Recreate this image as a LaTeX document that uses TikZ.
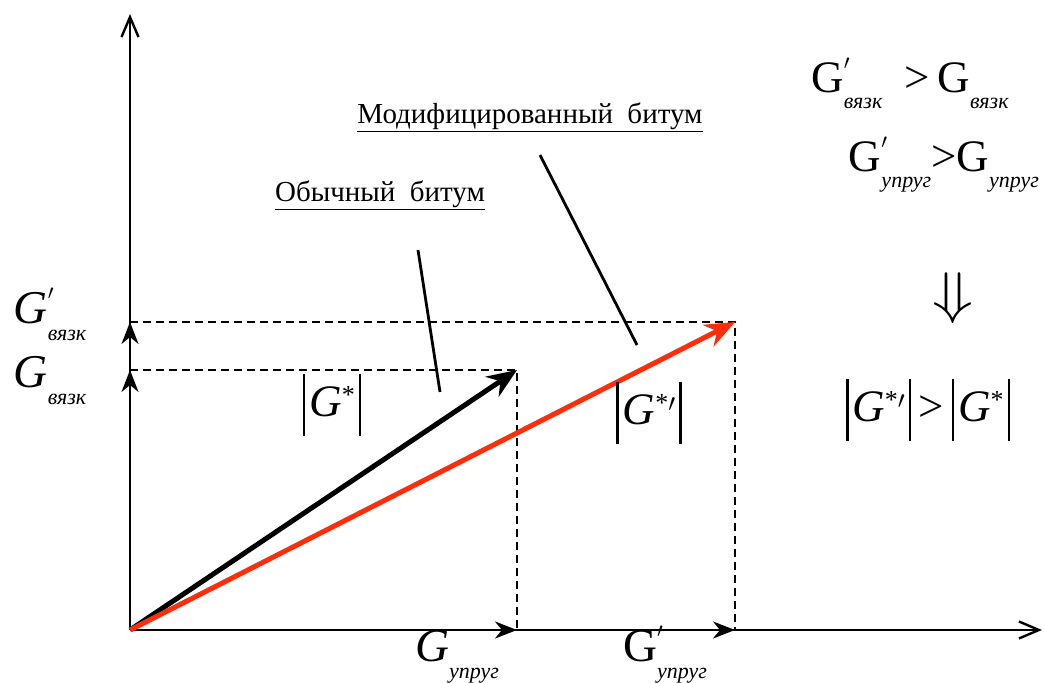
\documentclass[tikz,border=0pt]{standalone}
\usepackage{fontspec}
\setmainfont{Liberation Serif}
\usetikzlibrary{arrows.meta}
\definecolor{vred}{RGB}{255,45,10}
\newcommand{\Gx}[3]{{#1G}\rlap{\smash{\raisebox{0.52em}{\fontsize{20}{20}\selectfont#2}}}\raisebox{-0.36em}{\fontsize{22}{22}\selectfont\itshape #3}}
\newcommand{\vb}{\rule[-0.42em]{2.4pt}{1.36em}}
\newcommand{\Gabs}[1]{\vb\kern4pt{\itshape G}\raisebox{0.3em}{\fontsize{26}{26}\selectfont #1}\kern4pt\vb}
\begin{document}
\begin{tikzpicture}[x=1pt,y=1pt,
  axis/.style={line width=2.4pt},
  opentip/.style={-{Straight Barb[length=20pt,width=17pt,line width=2.4pt]}},
  filltip/.style={-{Stealth[length=22pt,width=17pt,inset=7pt]}},
  vec/.style={line width=5pt,-{Stealth[length=30pt,width=24pt,inset=10pt]}},
  dashln/.style={line width=2pt,dash pattern=on 8pt off 5pt},
  leader/.style={line width=2.8pt},
  lbl/.style={font=\fontsize{29}{32}\selectfont, inner sep=0pt},
  glab/.style={font=\fontsize{47}{52}\selectfont, inner sep=0pt},
  mlab/.style={font=\fontsize{45}{50}\selectfont, inner sep=0pt},
]
\useasboundingbox (0,0) rectangle (1045,683);
\fill[white] (0,0) rectangle (1045,683);
\coordinate (O) at (130,53);
\coordinate (Ytop) at (130,669);
\coordinate (Xend) at (1042,53);
\coordinate (Yv) at (130,313);
\coordinate (Yvp) at (130,361);
\coordinate (Xu) at (517,53);
\coordinate (Xup) at (735,53);
\coordinate (P1) at (517,313);
\coordinate (P2) at (735,361);
% dashed projections
\draw[dashln] (Yv) -- (P1) -- (Xu);
\draw[dashln] (Yvp) -- (P2) -- (Xup);
% axes
\draw[axis,opentip] (O) -- (Ytop);
\draw[axis,opentip] (O) -- (Xend);
\draw[axis,filltip] ([yshift=-30pt]Yv) -- (Yv);
\draw[axis,filltip] ([yshift=-30pt]Yvp) -- (Yvp);
\draw[axis,filltip] ([xshift=-30pt]Xu) -- (Xu);
\draw[axis,filltip] ([xshift=-30pt]Xup) -- (Xup);
% vectors
\draw[vec,black] (O) -- (P1);
\draw[vec,vred] (O) -- (P2);
% leaders
\coordinate (L1a) at (418,433);
\coordinate (L1b) at (440,291);
\coordinate (L2a) at (540,528);
\coordinate (L2b) at (637,338);
\draw[leader] (L1a) -- (L1b);
\draw[leader] (L2a) -- (L2b);
% labels
\node[lbl] (mod) at (530,566) {\underline{Модифицированный\ \ битум}};
\node[lbl] (obi) at (380,488) {\underline{Обычный\ \ битум}};
\node[glab] (gvp) at (50,366) {\Gx{\itshape}{$\prime$}{вязк}};
\node[glab] (gv) at (50,302) {\Gx{\itshape}{}{вязк}};
\node[glab] (gu) at (457,26) {\Gx{\itshape}{}{упруг}};
\node[glab] (gup) at (665,26) {\Gx{\upshape}{$\prime$}{упруг}};
\node[glab,font=\fontsize{45}{50}\selectfont] (r1) at (910,597) {\Gx{\upshape}{$\prime$}{вязк}\ \ >\,\Gx{\upshape}{}{вязк}};
\node[glab,font=\fontsize{45}{50}\selectfont] (r2) at (944,516) {\Gx{\upshape}{$\prime$}{упруг}>\Gx{\upshape}{}{упруг}};
\node[inner sep=0pt] (imp) at (953,385) {\scalebox{2.7}[2.3]{\fontsize{24.88}{26}\selectfont$\Downarrow$}};
\node[mlab] (m1) at (332,278) {\Gabs{*}};
\node[mlab] (m2) at (649,270) {\Gabs{*$\prime$}};
\node[mlab] (r3) at (928,273) {\Gabs{*$\prime$}\,>\,\Gabs{*}};
\end{tikzpicture}
\end{document}
